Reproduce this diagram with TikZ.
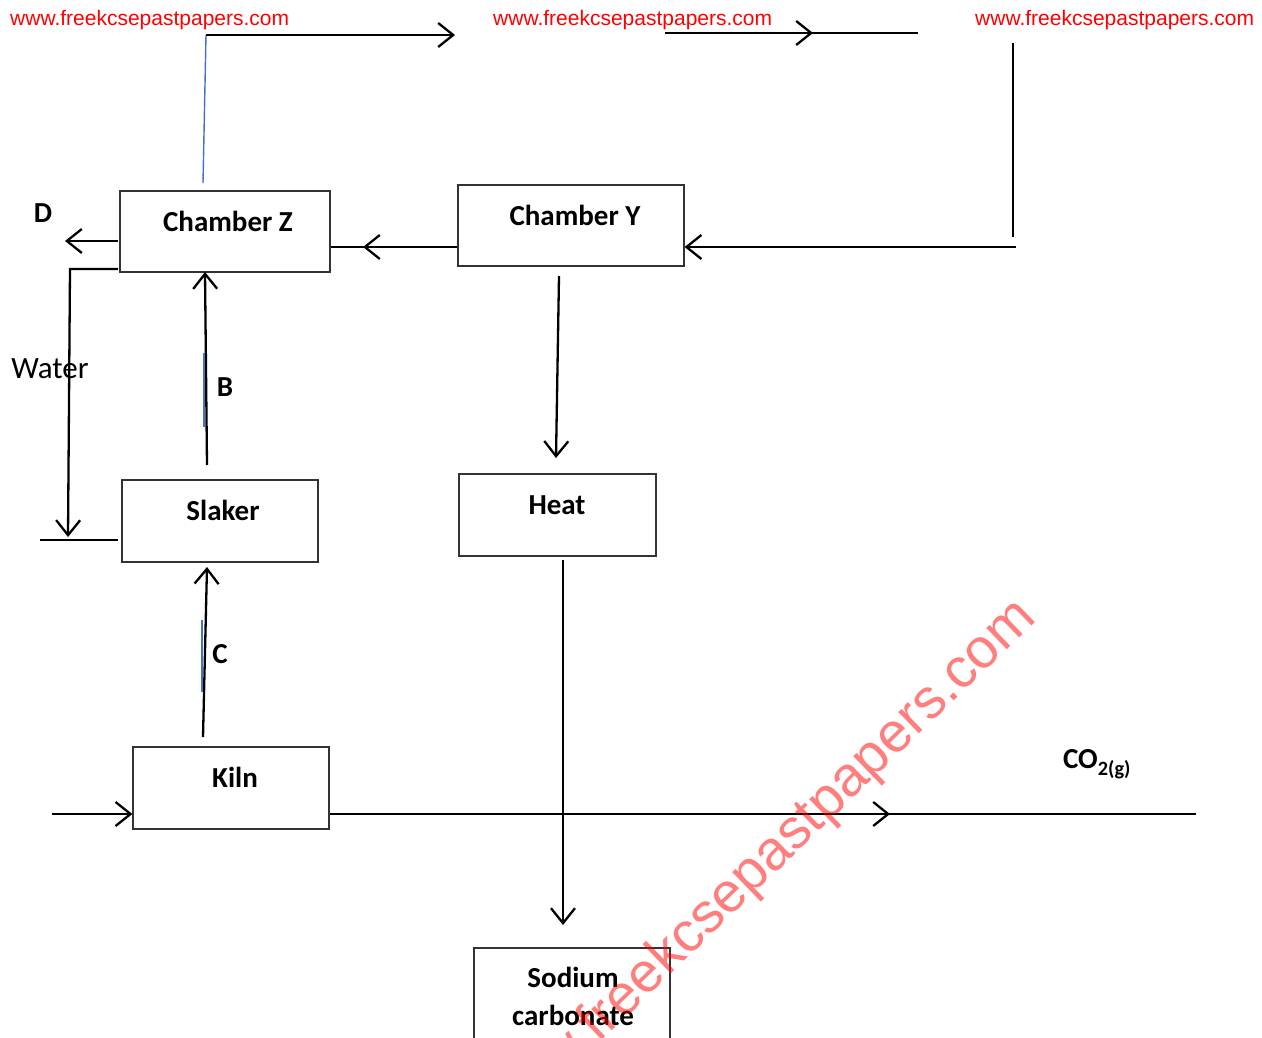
\documentclass[tikz,border=0pt]{standalone}
\usepackage{fontspec}
\setmainfont{Carlito}
\newfontfamily\wmfont{Liberation Sans}
\usetikzlibrary{arrows.meta}
\tikzset{
  box/.style={draw=black!80, line width=1.2pt, inner sep=0pt, rectangle},
  lbl/.style={font=\fontsize{29}{38}\selectfont\bfseries, inner sep=0pt, align=center},
  flow/.style={line width=2.3pt, -{Straight Barb[length=15pt,width=24pt]}},
  thinln/.style={line width=1.5pt},
  blueln/.style={line width=1.4pt, draw={rgb,255:red,68;green,114;blue,196}},
  wm/.style={font=\wmfont\fontsize{21}{25}\selectfont, text=red, inner sep=0pt, anchor=west},
}
\begin{document}
\begin{tikzpicture}[x=1pt,y=-1pt]
\useasboundingbox (0,0) rectangle (1262,1038);
\clip (0,0) rectangle (1262,1038);
\fill[white] (0,0) rectangle (1262,1038);

% boxes
\node[box, minimum width=210pt, minimum height=81pt] (cz) at (225,231.5) {};
\node[box, minimum width=226pt, minimum height=81pt] (cy) at (571,225.5) {};
\node[box, minimum width=196pt, minimum height=82pt] (sl) at (220,521) {};
\node[box, minimum width=197pt, minimum height=82pt] (ht) at (557.5,515) {};
\node[box, minimum width=196pt, minimum height=82pt] (kl) at (231,788) {};
\node[box, minimum width=196pt, minimum height=104pt] (sc) at (572,1000) {};

\node[lbl] (czt) at (228,221) {Chamber Z};
\node[lbl] (cyt) at (575,215) {Chamber Y};
\node[lbl] (slt) at (223,510) {Slaker};
\node[lbl] (htt) at (557,505) {Heat};
\node[lbl] (klt) at (235,777) {Kiln};
\node[lbl] (sct) at (573,996) {Sodium\\carbonate};

% labels
\node[lbl] (ld) at (43,213) {D};
\node[lbl] (lb) at (225,387) {B};
\node[lbl] (lc) at (220,654) {C};
\node[font=\fontsize{31}{36}\selectfont, inner sep=0pt] (lw) at (50,369) {Water};
\node[lbl] (lco) at (1097,764) {CO\textsubscript{2(g)}};

% coordinates
\coordinate (bz1) at (203,183);
\coordinate (bz2) at (206,35);
\coordinate (ta) at (455,35);
\coordinate (tb1) at (665,33);
\coordinate (tb2) at (918,33);
\coordinate (tm1) at (765,33);
\coordinate (tm2) at (813,33);
\coordinate (v1) at (1013,43);
\coordinate (v2) at (1013,237);
\coordinate (ya) at (1016,247);
\coordinate (ym1) at (417,247);
\coordinate (ym2) at (363,247);
\coordinate (dsrc) at (118,241);
\coordinate (dend) at (65,241);
\coordinate (w0) at (118,269);
\coordinate (w1) at (70,269);
\coordinate (w2) at (68,537);
\coordinate (h1) at (40,540);
\coordinate (h2) at (118,540);
\coordinate (b1) at (207,465);
\coordinate (b2) at (205,272);
\coordinate (bb1) at (204,353);
\coordinate (bb2) at (204,427);
\coordinate (c1) at (203,737);
\coordinate (c2) at (207,567);
\coordinate (cb1) at (202,620);
\coordinate (cb2) at (202,692);
\coordinate (yd1) at (559,276);
\coordinate (yd2) at (556,458);
\coordinate (hd1) at (563,560);
\coordinate (hd2) at (563,925);
\coordinate (kin) at (52,814);
\coordinate (kend) at (1196,814);
\coordinate (km1) at (765,814);
\coordinate (km2) at (890,814);

% connectors
\draw[blueln] (bz1) -- (bz2);
\draw[flow] (bz2) -- (ta);
\draw[thinln] (tb1) -- (tb2);
\draw[flow] (tm1) -- (tm2);
\draw[thinln] (v1) -- (v2);
\draw[flow] (ya) -- (ya -| cy.east);
\draw[thinln] (ya -| cy.west) -- (ya -| cz.east);
\draw[flow] (ym1) -- (ym2);
\draw[flow] (dsrc) -- (dend);
\draw[flow] (w0) -- (w1) -- (w2);
\draw[thinln] (h1) -- (h2);
\draw[flow] (b1) -- (b2);
\draw[blueln] (bb1) -- (bb2);
\draw[flow] (c1) -- (c2);
\draw[blueln] (cb1) -- (cb2);
\draw[flow] (yd1) -- (yd2);
\draw[flow] (hd1) -- (hd2);
\draw[flow] (kin) -- (kin -| kl.west);
\draw[thinln] (kend -| kl.east) -- (kend);
\draw[flow] (km1) -- (km2);

% watermarks
\node[wm] (wm1) at (10,20) {www.freekcsepastpapers.com};
\node[wm] (wm2) at (493,20) {www.freekcsepastpapers.com};
\node[wm] (wm3) at (975,20) {www.freekcsepastpapers.com};
\node[font=\wmfont\fontsize{56}{60}\selectfont, text=red, text opacity=0.5, inner sep=0pt, rotate=44] (wmd) at (760,868) {www.freekcsepastpapers.com};
\end{tikzpicture}
\end{document}
